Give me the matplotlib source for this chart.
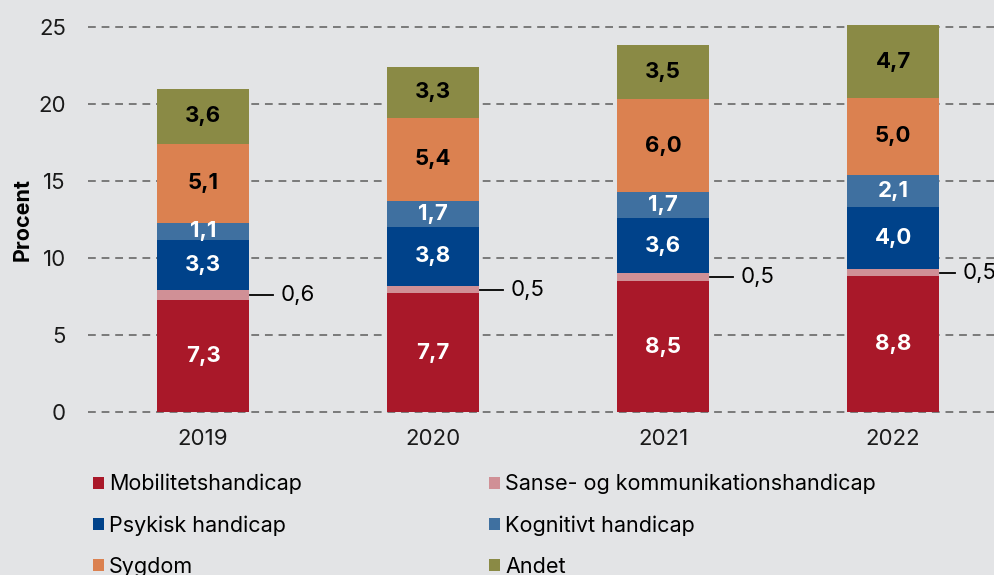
import matplotlib
matplotlib.use("Agg")
import matplotlib.pyplot as plt
from matplotlib.patches import Patch
import numpy as np

years = ["2019", "2020", "2021", "2022"]
series_names = ["Mobilitetshandicap", "Sanse- og kommunikationshandicap", "Psykisk handicap",
                "Kognitivt handicap", "Sygdom", "Andet"]
mobilitet = [7.3, 7.7, 8.5, 8.8]
sanse = [0.6, 0.5, 0.5, 0.5]
psykisk = [3.3, 3.8, 3.6, 4.0]
kognitivt = [1.1, 1.7, 1.7, 2.1]
sygdom = [5.1, 5.4, 6.0, 5.0]
andet = [3.6, 3.3, 3.5, 4.7]
yticks = [0, 5, 10, 15, 20, 25]

colors = ["#A91829", "#D09096", "#00428A", "#3F70A0", "#DB8150", "#8A8A45"]
label_colors = ["white", None, "white", "white", "black", "black"]
bg = "#E3E4E6"
leader_len = [0.1, 0.1, 0.1, 0.065]

plt.rcParams['font.family'] = ['Inter', 'DejaVu Sans']

W, H = 995, 575
fig = plt.figure(figsize=(W / 100, H / 100), dpi=100, facecolor=bg)
left_px, right_px = 88, 995
y0_px = 412
unit = 15.4
ymax = 25
ax = fig.add_axes([left_px / W, (H - y0_px) / H, (right_px - left_px) / W, ymax * unit / H])
ax.set_facecolor(bg)

x = np.arange(len(years))
data = [mobilitet, sanse, psykisk, kognitivt, sygdom, andet]
bottom = np.zeros(len(years))
width = 0.4
for vals, c, lc in zip(data, colors, label_colors):
    vals = np.array(vals)
    ax.bar(x, vals, width, bottom=bottom, color=c, zorder=3, linewidth=0, clip_on=False)
    for i, v in enumerate(vals):
        if lc is not None:
            ax.text(x[i], bottom[i] + v / 2, f"{v:.1f}".replace(".", ","), ha="center", va="center",
                    color=lc, fontsize=16, fontweight="bold", zorder=4)
        else:
            yc = bottom[i] + v / 2
            x1 = x[i] + width / 2 + 0.003
            x2 = x1 + leader_len[i]
            ax.plot([x1, x2], [yc, yc], color="black", lw=1.3, zorder=4, clip_on=False)
            ax.text(x2 + 0.035, yc, f"{v:.1f}".replace(".", ","), ha="left", va="center",
                    color="black", fontsize=16, zorder=4, clip_on=False)
    bottom += vals

ax.set_xlim(-0.5, 3.443)
ax.set_ylim(0, ymax)
ax.set_yticks(yticks)
ax.set_yticklabels([str(t) for t in yticks], fontsize=16)
ax.set_xticks(x)
ax.set_xticklabels(years, fontsize=16)
ax.tick_params(axis="both", length=0, colors="#1a1a1a")
ax.tick_params(axis="y", pad=16)
ax.tick_params(axis="x", pad=12)
for s in ax.spines.values():
    s.set_visible(False)
ax.yaxis.grid(True, linestyle=(0, (4, 3)), color="#7a7a7a", linewidth=1.4, zorder=0, clip_on=False)
ax.set_axisbelow(True)
ax.set_ylabel("Procent", fontsize=15.5, fontweight="bold", labelpad=4)

handles = [Patch(facecolor=c, edgecolor="none") for c in colors]
common = dict(loc="upper left", frameon=False, fontsize=15.5, borderpad=0, borderaxespad=0,
              handlelength=0.5, handleheight=0.5, handletextpad=0.25, labelspacing=0.97)
leg1 = fig.legend([handles[0], handles[2], handles[4]], [series_names[0], series_names[2], series_names[4]],
                  bbox_to_anchor=(93 / W, 1 - 474 / H), **common)
leg2 = fig.legend([handles[1], handles[3], handles[5]], [series_names[1], series_names[3], series_names[5]],
                  bbox_to_anchor=(489 / W, 1 - 474 / H), **common)

fig.savefig("out.png", dpi=100, facecolor=bg)
